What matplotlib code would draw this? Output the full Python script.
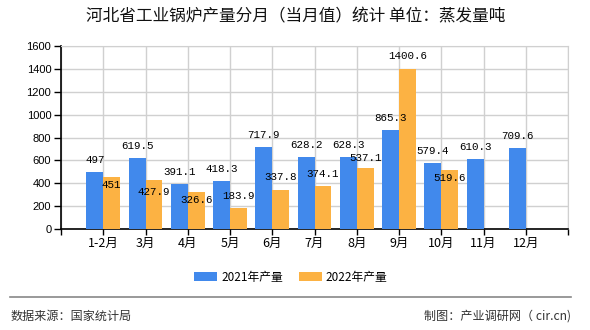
import matplotlib
matplotlib.use("Agg")
import matplotlib.pyplot as plt
import numpy as np
from matplotlib.patches import Patch
from matplotlib.lines import Line2D

plt.rcParams['font.family'] = ['Noto Sans CJK SC', 'DejaVu Sans']

categories = ["1-2月", "3月", "4月", "5月", "6月", "7月", "8月", "9月", "10月", "11月", "12月"]
y2021 = [497, 619.5, 391.1, 418.3, 717.9, 628.2, 628.3, 865.3, 579.4, 610.3, 709.6]
y2022 = [451, 427.9, 326.6, 183.9, 337.8, 374.1, 537.1, 1400.6, 519.6]
labels2021 = ["497", "619.5", "391.1", "418.3", "717.9", "628.2", "628.3", "865.3", "579.4", "610.3", "709.6"]
labels2022 = ["451", "427.9", "326.6", "183.9", "337.8", "374.1", "537.1", "1400.6", "519.6"]
yticks = [0, 200, 400, 600, 800, 1000, 1200, 1400, 1600]
series_names = ["2021年产量", "2022年产量"]

# label vertical offsets (pixels) for the 2022 series, as placed in the reference
dy2022 = [-8, -12, -8, 12, 13, 12, 10, 13, -8]

c1 = "#4189EC"
c2 = "#FCB243"

fig = plt.figure(figsize=(5.9, 3.3), dpi=100)
ax = fig.add_axes([61/590, 1-229/330, (568-61)/590, (229-46)/330])

x1 = np.arange(len(y2021))
x2 = np.arange(len(y2022))
w = 0.4
ax.bar(x1 - w/2, y2021, width=w, color=c1, zorder=3)
ax.bar(x2 + w/2, y2022, width=w, color=c2, zorder=3)

ax.set_xlim(-1, len(categories))
ax.set_ylim(0, 1600)
ax.set_yticks(yticks)
ax.set_yticklabels([str(t) for t in yticks], family=['Liberation Sans'], fontsize=8, color='black')

ax.set_xticks(np.arange(-1, len(categories) + 1))
ax.set_xticklabels([""] + categories + [""], fontsize=9, color='black')
ax.tick_params(axis='x', length=4, width=1, color='black', pad=2)
ax.tick_params(axis='y', length=5, width=1, color='black', pad=2)

ax.grid(True, color='#d0d0d0', linewidth=1, zorder=0)
ax.set_axisbelow(True)
for s in ['top', 'right']:
    ax.spines[s].set_color('#d0d0d0')
ax.spines['left'].set_color('black')
ax.spines['bottom'].set_color('black')
ax.spines['left'].set_linewidth(1.2)
ax.spines['bottom'].set_linewidth(1.2)

vfont = dict(family=['Liberation Mono'], fontsize=7.8, color='black')
for xi, v, lab in zip(x1, y2021, labels2021):
    ax.annotate(lab, (xi - w/2, v), xytext=(0, 12), textcoords='offset pixels',
                ha='center', va='center', zorder=5, **vfont)
for xi, v, lab, d in zip(x2, y2022, labels2022, dy2022):
    ax.annotate(lab, (xi + w/2, v), xytext=(0, d), textcoords='offset pixels',
                ha='center', va='center', zorder=5, **vfont)

fig.text(296/590, 1-17/330, "河北省工业锅炉产量分月（当月值）统计 单位：蒸发量吨",
         ha='center', va='center', fontsize=12, color='#111111')

handles = [Patch(facecolor=c1, edgecolor='none'), Patch(facecolor=c2, edgecolor='none')]
fig.legend(handles, series_names, loc='center', bbox_to_anchor=(291/590, 1-277/330),
           ncol=2, frameon=False, fontsize=8.5, handlelength=1.9, handleheight=0.7,
           handletextpad=0.35, columnspacing=1.4)

fig.add_artist(Line2D([10/590, 571/590], [1-297/330, 1-297/330], color='#888888', linewidth=1.2))
fig.text(11/590, 1-316/330, "数据来源：国家统计局", ha='left', va='center', fontsize=8.7, color='#333333')
fig.text(571/590, 1-316/330, "制图：产业调研网（ cir.cn)", ha='right', va='center', fontsize=8.7, color='#333333')

fig.savefig("out.png", dpi=100)
